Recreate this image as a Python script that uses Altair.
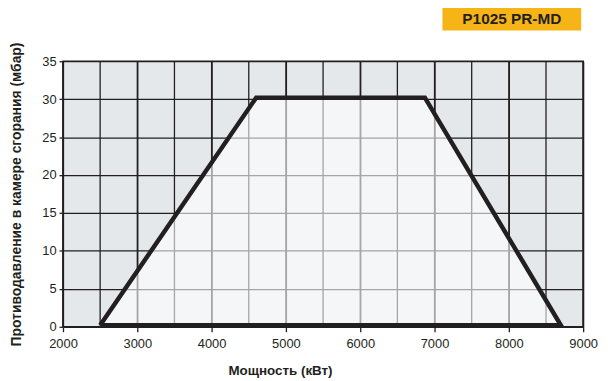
import altair as alt
import pandas as pd

# Outline of the working field (power kW, back-pressure mbar), in drawing order
power = [2500, 4600, 6870, 8700, 2500]
pressure = [0.2, 30.2, 30.2, 0.2, 0.2]
order = [0, 1, 2, 3, 4]

x_ticks = [2000, 3000, 4000, 5000, 6000, 7000, 8000, 9000]
y_ticks = [0, 5, 10, 15, 20, 25, 30, 35]
x_grid = list(range(2000, 9001, 500))

label = "P1025 PR-MD"
x_title = "Мощность  (кВт)"
y_title = "Противодавление в камере сгорания (мбар)"

W, H = 525, 268
DARK = "#231f20"
FONT = "Liberation Sans"

df = pd.DataFrame({"power": power, "pressure": pressure, "order": order})
area_df = df.iloc[:4]

xscale = alt.Scale(domain=[2000, 9000], nice=False)
yscale = alt.Scale(domain=[0, 35], nice=False)

x_axis = alt.Axis(
    values=x_ticks, format="d", gridColor=DARK, gridWidth=1.3, gridOpacity=1,
    domain=False, tickColor=DARK, tickSize=5, tickWidth=1.3,
    labelFont=FONT, labelFontSize=13, labelColor=DARK, labelPadding=6,
    title=x_title, titleFont=FONT, titleFontSize=13.5, titleFontWeight="bold",
    titleColor=DARK, titleX=219, titleY=44, titleAlign="center",
    titleBaseline="middle", labelFlush=False,
)
y_axis = alt.Axis(
    values=y_ticks, format="d", gridColor=DARK, gridWidth=1.3, gridOpacity=1,
    domain=False, tickColor=DARK, tickSize=4, tickWidth=1.3,
    labelFont=FONT, labelFontSize=13, labelColor=DARK, labelPadding=3,
    title=y_title, titleFont=FONT, titleFontSize=14, titleFontWeight="bold",
    titleColor=DARK, titleX=-47, titleAngle=-90, titleBaseline="middle",
    labelFlush=False,
)

X = lambda f: alt.X(f, scale=xscale, axis=x_axis)
Y = lambda f: alt.Y(f, scale=yscale, axis=y_axis)

# extra vertical grid lines every 500 kW
vgrid = alt.Chart(pd.DataFrame({"g": x_grid})).mark_rule(
    color=DARK, strokeWidth=1.3
).encode(x=X("g:Q"))

fill = alt.Chart(area_df).mark_area(
    color="white", opacity=0.6, interpolate="linear"
).encode(
    x=X("power:Q"),
    y=Y("pressure:Q"),
    y2=alt.datum(0),
)

outline = alt.Chart(df).mark_line(
    color=DARK, strokeWidth=4.5, strokeJoin="miter"
).encode(
    x=X("power:Q"),
    y=Y("pressure:Q"),
    order="order:Q",
)

box = alt.Chart(pd.DataFrame({"t": [label]})).mark_rect(
    color="#f6b416"
).encode(
    x=alt.value(383), x2=alt.value(523), y=alt.value(-55), y2=alt.value(-31)
)
box_text = alt.Chart(pd.DataFrame({"t": [label]})).mark_text(
    font=FONT, fontSize=15.5, fontWeight="bold", color=DARK,
    align="center", baseline="middle",
).encode(text="t:N", x=alt.value(453), y=alt.value(-42.5))

chart = alt.layer(vgrid, fill, outline, box, box_text).properties(
    width=W, height=H,
    autosize=alt.AutoSizeParams(type="none"),
    padding={"left": 55.5, "top": 52, "right": 17, "bottom": 52},
    background="white",
).configure_view(
    fill="#e4e8eb", stroke=DARK, strokeWidth=1.6, clip=False
)

chart.save("out.html", embed_options={"renderer": "svg", "actions": False})
